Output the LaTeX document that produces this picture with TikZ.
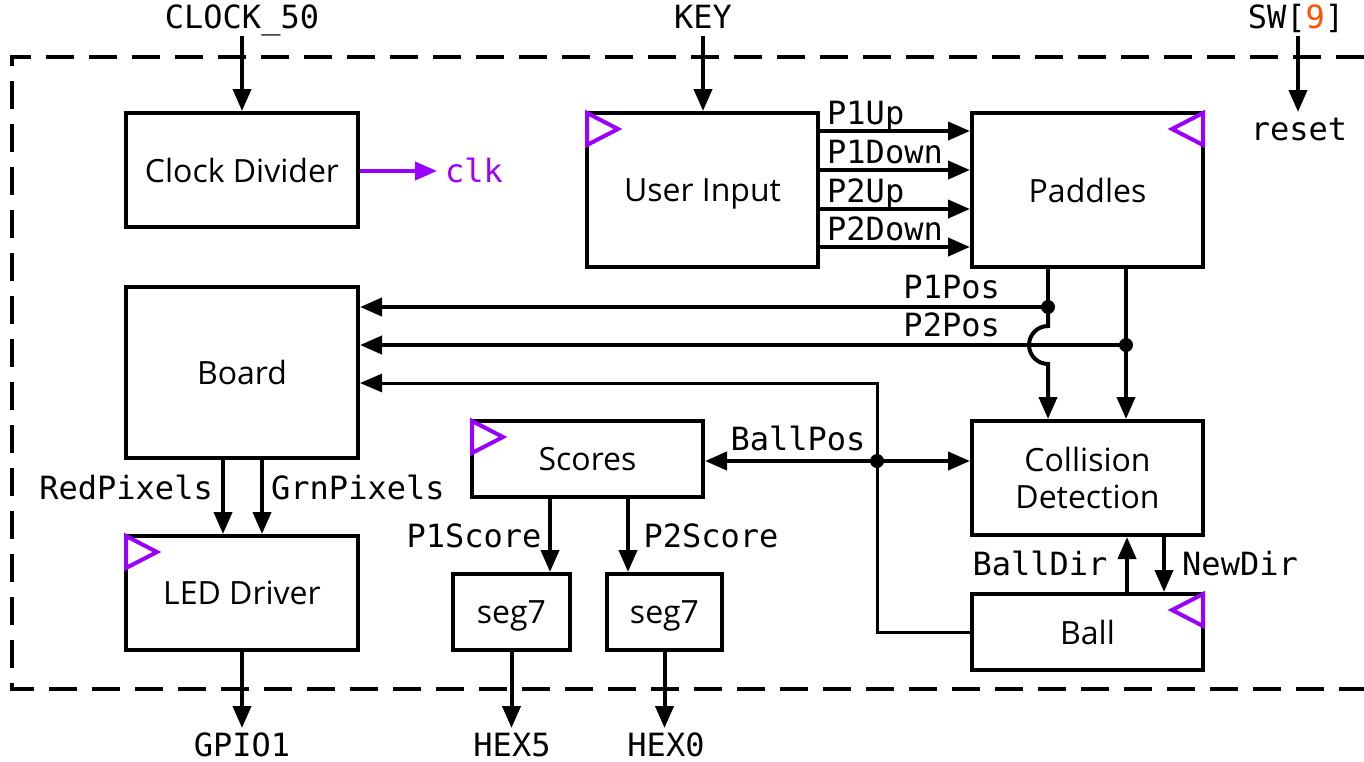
\documentclass[tikz,border=0pt]{standalone}
\usepackage{fontspec}
\usetikzlibrary{arrows.meta}
\newfontfamily\boxfont{Open Sans}
\newfontfamily\sigfont{DejaVu Sans Mono}
\definecolor{clkpurple}{RGB}{153,0,255}
\definecolor{nine}{RGB}{255,80,0}
\tikzset{
  box/.style={draw, line width=4pt, minimum width=232pt, inner sep=0pt, font=\boxfont\fontsize{32}{37}\selectfont},
  sig/.style={inner sep=0pt, font=\sigfont\fontsize{32}{36}\selectfont},
  arr/.style={line width=4pt, -{Triangle[length=22pt,width=18pt]}},
  wire/.style={line width=4pt},
  clkmark/.style={draw=clkpurple, line width=4pt, line join=miter},
  frame/.style={line width=4pt, dash pattern=on 28pt off 15pt},
  dot/.style={fill=black}
}
\begin{document}
\begin{tikzpicture}[x=1pt,y=-1pt]
\useasboundingbox (0,0) rectangle (1364,761);
% frame
\draw[frame] (1364,57) -- (12,57) -- (12,689) -- (1364,689);
% boxes
\node[box, minimum height=114pt] (cd) at (242,170) {Clock Divider};
\node[box, minimum width=231pt, minimum height=154pt, text depth=0pt] (ui) at (702.5,190) {User Input};
\node[box, minimum width=231pt, minimum height=154pt] (pad) at (1087.5,190) {Paddles};
\node[box, minimum height=171pt] (board) at (242,372.5) {Board};
\node[box, minimum width=231pt, minimum height=76pt] (sc) at (587.5,459) {Scores};
\node[box, minimum width=231pt, minimum height=114pt, align=center] (coll) at (1087.5,478) {Collision\\Detection};
\node[box, minimum height=114pt] (led) at (242,593) {LED Driver};
\node[box, minimum width=117pt, minimum height=76pt, text depth=0pt] (s7a) at (511.5,612) {seg7};
\node[box, minimum width=115pt, minimum height=76pt, text depth=0pt] (s7b) at (664.5,612) {seg7};
\node[box, minimum width=231pt, minimum height=76pt] (ball) at (1087.5,632) {Ball};
% clock marks
\draw[clkmark] (ui.north west) ++(2,2) -- ++(31,16) -- ++(-31,16) -- cycle;
\draw[clkmark] (pad.north east) ++(-2,2) -- ++(-31,16) -- ++(31,16) -- cycle;
\draw[clkmark] (sc.north west) ++(2,2) -- ++(31,16) -- ++(-31,16) -- cycle;
\draw[clkmark] (led.north west) ++(2,2) -- ++(31,16) -- ++(-31,16) -- cycle;
\draw[clkmark] (ball.north east) ++(-2,2) -- ++(-31,16) -- ++(31,16) -- cycle;
% helper levels
\coordinate (ib) at (0,36);
\coordinate (ob) at (0,728);
% external inputs
\node[sig, anchor=base] (clk50) at (242,28) {CLOCK\_50};
\draw[arr] (clk50.south |- ib) -- (cd.north);
\node[sig, anchor=base] (key) at (703,28) {KEY};
\draw[arr] (key.south |- ib) -- (key.south |- ui.north);
\node[sig, anchor=base] (sw) at (1296,28) {SW[\textcolor{nine}{9}]};
\node[sig, anchor=base] (reset) at (1299,140) {reset};
\coordinate (rt) at (1298,112);
\draw[arr] (rt |- ib) -- (rt);
% clk output
\node[sig, text=clkpurple, anchor=base west] (clk) at (445,182) {clk};
\coordinate (ct) at (437,171);
\draw[arr, draw=clkpurple, fill=clkpurple] (cd.east |- ct) -- (ct);
% user input to paddles
\foreach \yy/\lab in {131/P1Up,170/P1Down,209/P2Up,247/P2Down}{
  \coordinate (u\lab) at (818,\yy);
  \draw[arr] (ui.east |- u\lab) -- (pad.west |- u\lab);
  \node[sig, anchor=base west] at (827,\yy-7) {\lab};
}
% paddle positions
\coordinate (j1) at (1048,307);
\coordinate (j2) at (1126,345);
\draw[wire] (pad.south -| j1) -- (j1);
\draw[arr] (j1) -- (1048,326) arc[start angle=270, end angle=90, radius=19] -- (coll.north -| j1);
\draw[arr] (pad.south -| j2) -- (coll.north -| j2);
\draw[arr] (j1) -- (board.east |- j1);
\draw[arr] (j2) -- (board.east |- j2);
\fill[dot] (j1) circle[radius=7pt];
\fill[dot] (j2) circle[radius=7pt];
\node[sig, anchor=base east] at (1000,298) {P1Pos};
\node[sig, anchor=base east] at (1000,336) {P2Pos};
% ball position
\coordinate (bb) at (877,383);
\coordinate (j3) at (877,461);
\draw[arr, line width=3pt] (ball.west) -| (bb) -- (board.east |- bb);
\draw[arr] (j3) -- (sc.east |- j3);
\draw[arr] (j3) -- (coll.west |- j3);
\fill[dot] (j3) circle[radius=7pt];
\node[sig, anchor=base] at (798,450) {BallPos};
% board to LED
\draw[arr] ([xshift=-19pt]board.south) -- ([xshift=-19pt]led.north);
\draw[arr] ([xshift=20pt]board.south) -- ([xshift=20pt]led.north);
\node[sig, anchor=base east] at (213,499) {RedPixels};
\node[sig, anchor=base west] at (271,499) {GrnPixels};
% scores to seg7
\draw[arr] ([xshift=-37.5pt]sc.south) -- ([xshift=-37.5pt]sc.south |- s7a.north);
\draw[arr] ([xshift=40.5pt]sc.south) -- ([xshift=40.5pt]sc.south |- s7b.north);
\node[sig, anchor=base] at (474,547) {P1Score};
\node[sig, anchor=base] at (711,547) {P2Score};
% outputs
\node[sig, anchor=base] (gpio) at (242,756) {GPIO1};
\node[sig, anchor=base] (hex5) at (512,756) {HEX5};
\node[sig, anchor=base] (hex0) at (666,756) {HEX0};
\draw[arr] (led.south) -- (led.south |- ob);
\draw[arr] (s7a.south) -- (s7a.south |- ob);
\draw[arr] (s7b.south) -- (s7b.south |- ob);
% ball <-> collision
\draw[arr] ([xshift=39.5pt]ball.north) -- ([xshift=39.5pt]coll.south);
\draw[arr] ([xshift=76.5pt]coll.south) -- ([xshift=76.5pt]ball.north);
\node[sig, anchor=base] at (1040,575) {BallDir};
\node[sig, anchor=base] at (1240,575) {NewDir};
\end{tikzpicture}
\end{document}
